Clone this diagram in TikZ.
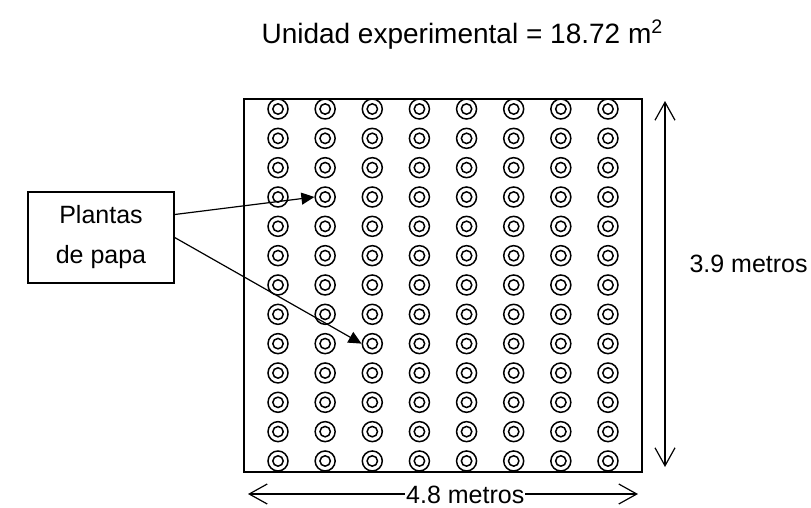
\documentclass[tikz,border=0pt]{standalone}
\usepackage{fontspec}
\setmainfont{Liberation Sans}
\usetikzlibrary{arrows.meta,positioning,calc}
\begin{document}
\begin{tikzpicture}[x=1pt,y=-1pt,
  plant/.style={circle,draw,line width=1.5pt,minimum size=20pt,inner sep=0pt,
    path picture={\draw[line width=1.5pt] (path picture bounding box.center) circle (5.2pt);}},
  dim/.style={line width=1.2pt,{Straight Barb[length=18pt,width=20pt]}-{Straight Barb[length=18pt,width=20pt]}},
  pointer/.style={line width=1.2pt,-{Triangle[length=13pt,width=12pt]}},
  lbl/.style={font=\fontsize{25}{40}\selectfont}]
\useasboundingbox (0,0) rectangle (811,507);
% title
\node[anchor=base west,font=\fontsize{28}{34}\selectfont] (title) at (258,43) {Unidad experimental = 18.72 m\textsuperscript{2}};
% experimental plot
\node[draw,line width=1.4pt,minimum width=398pt,minimum height=373pt,inner sep=0pt] (plot) at (443,285.5) {};
% potato plants
\foreach \i in {1,...,8} {
  \foreach \j in {1,...,13} {
    \node[plant] (p-\i-\j) at ({278+47.14*(\i-1)},{109+29.33*(\j-1)}) {};
  }
}
% label box
\node[draw,line width=1.4pt,lbl,align=center,minimum width=146pt,minimum height=91pt] (plantas) at (101,237.5) {Plantas\\de papa};
\draw[pointer] ([yshift=23pt]plantas.east) -- (p-2-4.west);
\draw[pointer] (plantas.east) -- (p-3-9.west);
% dimensions
\coordinate (htop) at (665,101);
\coordinate (hbot) at (665,467);
\draw[dim] (htop) -- (hbot);
\node[lbl,anchor=base west] (alto) at (686,272) {3.9 metros};
\coordinate (wleft) at (248,494);
\coordinate (wright) at (638,494);
\draw[dim] (wleft) -- (wright);
\node[lbl,anchor=base west,fill=white,inner xsep=1pt,inner ysep=0pt] (ancho) at (405,503) {4.8 metros};
\end{tikzpicture}
\end{document}
